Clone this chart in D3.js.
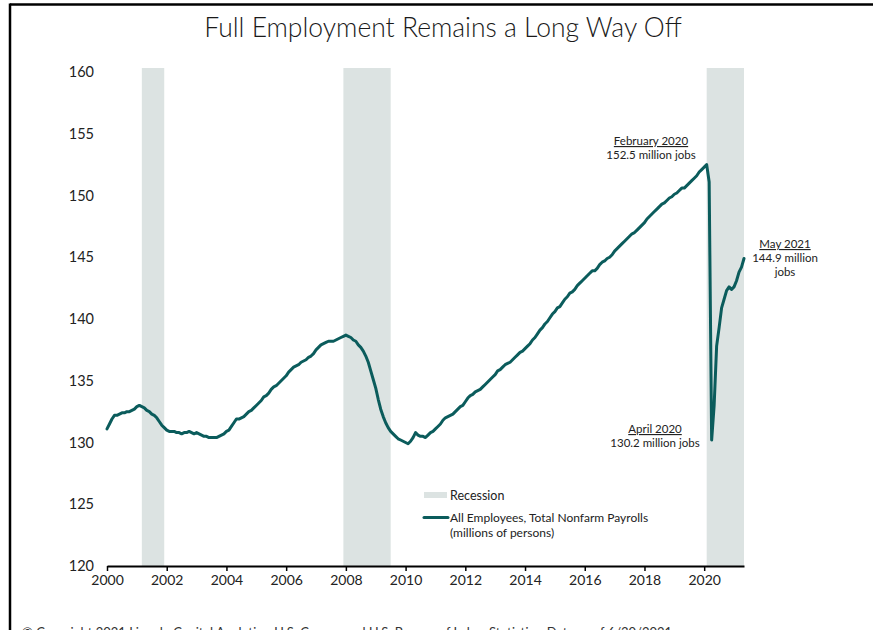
<!DOCTYPE html>
<html lang="en">
<head>
  <meta charset="UTF-8">
  <script src="https://d3js.org/d3.v7.min.js"></script>
  <title>Full Employment Remains a Long Way Off</title>
  <style>
    body { margin: 0; background: #fff; }
    text { font-family: Lato, "Noto Sans", sans-serif; }
  </style>
</head>
<body>

<script>
  /*
    Data: total nonfarm payrolls, millions, monthly from Jan 2000
  */
  const startYear = 2000
  const payrolls = [
    131.1, 131.5, 131.9, 132.2, 132.2, 132.3, 132.4, 132.4, 132.5, 132.5, 132.6, 132.7, // 2000
    132.9, 133.0, 132.9, 132.8, 132.6, 132.5, 132.3, 132.2, 132.0, 131.7, 131.4, 131.2, // 2001
    131.0, 130.9, 130.9, 130.9, 130.8, 130.8, 130.7, 130.8, 130.8, 130.9, 130.8, 130.7, // 2002
    130.8, 130.7, 130.6, 130.5, 130.5, 130.4, 130.4, 130.4, 130.4, 130.5, 130.6, 130.7, // 2003
    130.9, 131.0, 131.3, 131.6, 131.9, 131.9, 132.0, 132.1, 132.3, 132.5, 132.6, 132.8, // 2004
    133.0, 133.2, 133.4, 133.7, 133.8, 134.0, 134.3, 134.5, 134.6, 134.8, 135.0, 135.2, // 2005
    135.4, 135.7, 135.9, 136.1, 136.2, 136.3, 136.5, 136.6, 136.7, 136.9, 137.0, 137.2, // 2006
    137.5, 137.7, 137.9, 138.0, 138.1, 138.2, 138.2, 138.2, 138.3, 138.4, 138.5, 138.6, // 2007
    138.7, 138.6, 138.5, 138.3, 138.2, 137.9, 137.7, 137.4, 137.0, 136.5, 135.8, 135.1, // 2008
    134.4, 133.5, 132.7, 132.1, 131.6, 131.2, 130.9, 130.7, 130.5, 130.3, 130.2, 130.1, // 2009
    130.0, 129.9, 130.1, 130.4, 130.8, 130.6, 130.5, 130.5, 130.4, 130.6, 130.8, 130.9, // 2010
    131.1, 131.3, 131.5, 131.8, 132.0, 132.1, 132.2, 132.3, 132.5, 132.7, 132.9, 133.0, // 2011
    133.3, 133.6, 133.8, 133.9, 134.1, 134.2, 134.3, 134.5, 134.7, 134.9, 135.1, 135.3, // 2012
    135.5, 135.8, 135.9, 136.1, 136.3, 136.4, 136.5, 136.7, 136.9, 137.1, 137.3, 137.4, // 2013
    137.6, 137.8, 138.0, 138.3, 138.5, 138.8, 139.1, 139.3, 139.6, 139.8, 140.1, 140.4, // 2014
    140.6, 140.9, 141.0, 141.3, 141.6, 141.8, 142.1, 142.2, 142.4, 142.7, 142.9, 143.1, // 2015
    143.3, 143.5, 143.7, 143.9, 143.9, 144.1, 144.4, 144.6, 144.7, 144.9, 145.0, 145.2, // 2016
    145.5, 145.7, 145.9, 146.1, 146.3, 146.5, 146.7, 146.9, 147.0, 147.2, 147.4, 147.6, // 2017
    147.8, 148.1, 148.3, 148.5, 148.7, 148.9, 149.1, 149.3, 149.4, 149.6, 149.8, 149.9, // 2018
    150.1, 150.2, 150.4, 150.6, 150.6, 150.8, 151.0, 151.2, 151.4, 151.6, 151.9, 152.1, // 2019
    152.3, 152.5, 151.1, 130.2, 133.0, 137.8, 139.3, 140.9, 141.6, 142.3, 142.6, 142.4, // 2020
    142.6, 143.1, 143.8, 144.2, 144.9                                                   // 2021
  ]

  // recession periods (decimal years)
  const recessionStart = [2001 + 2/12, 2007 + 11/12, 2020 + 1/12]
  const recessionEnd   = [2001 + 11/12, 2009 + 6/12, 2021 + 4/12]

  const yTicks = [120, 125, 130, 135, 140, 145, 150, 155, 160]
  const xTicks = [2000, 2002, 2004, 2006, 2008, 2010, 2012, 2014, 2016, 2018, 2020]

  const noteTitles = ["February 2020", "April 2020", "May 2021"]
  const noteLines  = [["152.5 million jobs"], ["130.2 million jobs"], ["144.9 million", "jobs"]]

  /*
    Layout
  */
  let width = 873
  let height = 630
  let lineColor = "#0b5c5c"
  let bandColor = "#dce3e2"

  let svg = d3.select("body").append("svg")
              .attr("width", width)
              .attr("height", height)

  // frame (top and left edges only are visible)
  svg.append("line").attr("x1", 10).attr("x2", width).attr("y1", 4.5).attr("y2", 4.5)
     .attr("stroke", "#000").attr("stroke-width", 2.5)
  svg.append("line").attr("x1", 10).attr("x2", 10).attr("y1", 3.5).attr("y2", height)
     .attr("stroke", "#000").attr("stroke-width", 2.5)

  // title
  svg.append("text")
     .attr("x", 443).attr("y", 37)
     .attr("text-anchor", "middle")
     .style("font-size", "26.5px")
     .style("font-weight", 300)
     .style("fill", "#1a1a1a")
     .text("Full Employment Remains a Long Way Off")

  let x = d3.scaleLinear().domain([2000, 2021 + 4/12]).range([107, 744])
  let y = d3.scaleLinear().domain([120, 160]).range([566, 72])

  // recession bands
  svg.selectAll("rect.band")
     .data(recessionStart)
     .enter().append("rect")
     .attr("class", "band")
     .attr("x", d => x(d))
     .attr("width", (d, i) => x(recessionEnd[i]) - x(d))
     .attr("y", 68)
     .attr("height", y(120) - 68)
     .style("fill", bandColor)

  // y labels (no axis line)
  let yAxis = svg.append("g")
                 .attr("transform", "translate(94,0)")
                 .call(d3.axisLeft(y).tickValues(yTicks).tickSize(0).tickPadding(0))
  yAxis.select(".domain").remove()
  yAxis.selectAll("text")
       .style("font-size", "14.5px")
       .style("fill", "#222")
       .attr("font-family", null)

  // x axis
  let xAxis = svg.append("g")
                 .attr("transform", "translate(0," + y(120) + ")")
                 .call(d3.axisBottom(x).tickValues(xTicks).tickFormat(d3.format("d"))
                         .tickSize(5).tickSizeOuter(0).tickPadding(4))
  xAxis.select(".domain").attr("stroke-width", 2)
  xAxis.selectAll(".tick line").attr("stroke-width", 1.5)
  xAxis.selectAll("text")
       .style("font-size", "14px")
       .style("fill", "#222")
       .attr("font-family", null)

  // payroll line
  let line = d3.line()
               .x((d, i) => x(startYear + i / 12))
               .y(d => y(d))

  svg.append("path")
     .datum(payrolls)
     .attr("d", line)
     .attr("fill", "none")
     .attr("stroke", lineColor)
     .attr("stroke-width", 3)
     .attr("stroke-linejoin", "round")
     .attr("stroke-linecap", "round")

  // annotations, one text element per line
  let notePos = [[651, 145], [655, 433], [785, 248]]
  noteTitles.forEach(function(t, i){
    let rows = [t].concat(noteLines[i])
    rows.forEach(function(s, j){
      svg.append("text")
         .attr("x", notePos[i][0])
         .attr("y", notePos[i][1] + j * 14)
         .attr("text-anchor", "middle")
         .style("font-size", "11.5px")
         .style("fill", "#222")
         .style("text-decoration", j == 0 ? "underline" : null)
         .text(s)
    })
  })

  // legend
  let legend = svg.append("g")
  legend.append("rect")
        .attr("x", 424).attr("y", 492).attr("width", 23).attr("height", 6)
        .style("fill", bandColor)
  legend.append("text")
        .attr("x", 450).attr("y", 500)
        .style("font-size", "12.5px").style("fill", "#222")
        .text("Recession")
  legend.append("line")
        .attr("x1", 424).attr("x2", 448).attr("y1", 517.5).attr("y2", 517.5)
        .attr("stroke", lineColor).attr("stroke-width", 3).attr("stroke-linecap", "round")
  legend.append("text")
        .attr("x", 450).attr("y", 522)
        .style("font-size", "12px").style("fill", "#222")
        .text("All Employees, Total Nonfarm Payrolls")
  legend.append("text")
        .attr("x", 450).attr("y", 536.5)
        .style("font-size", "12px").style("fill", "#222")
        .text("(millions of persons)")

  // source line, cut off at the bottom edge as in the original
  svg.append("text")
     .attr("x", 22).attr("y", 637)
     .style("font-size", "13px").style("fill", "#333")
     .text("© Copyright 2021 Lincoln Capital Analytics, U.S. Census and U.S. Bureau of Labor Statistics. Data as of 6/30/2021")
</script>
</body>
</html>
